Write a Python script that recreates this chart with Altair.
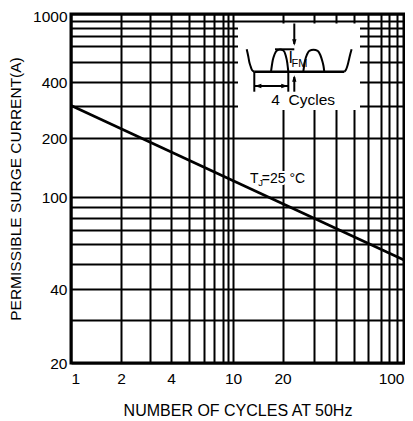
import altair as alt
import pandas as pd

# ---------------- data ----------------
cycles = [1, 100]
surge_current = [300, 52]

x_grid = [1, 2, 3, 4, 5, 6, 7, 8, 9, 10, 20, 30, 40, 50, 60, 70, 80, 90, 100]
x_labels = [1, 2, 4, 10, 20, 100]
y_grid = [20, 30, 40, 50, 60, 70, 80, 90, 100, 200, 300, 400, 500, 600, 700, 800, 900, 1000]
y_labels = [20, 40, 100, 200, 400, 1000]

tj_cycles = [12.7]
tj_current = [117.6]

# inset diagram (own unit system)
wave_part = (["left"] * 6 + ["hump1"] * 10 + ["hump2"] * 11 + ["right"] * 6)
wave_x = [8.7, 10.2, 11.3, 12.5, 14.0, 16.3,
          33.0, 33.8, 34.8, 36.5, 38.7, 42.0, 45.3, 47.7, 49.3, 50.3,
          65.3, 66.1, 67.2, 69.0, 71.3, 75.5, 79.7, 82.3, 84.3, 85.5, 86.3,
          106.3, 107.8, 109.2, 110.4, 111.8, 113.6]
wave_y = [62.7, 56.0, 50.0, 46.0, 42.0, 40.3,
          40.3, 46.0, 52.0, 57.5, 61.2, 62.5, 61.5, 56.5, 49.0, 40.3,
          40.3, 46.0, 52.0, 57.5, 61.2, 62.3, 61.2, 57.0, 51.0, 46.0, 40.3,
          40.3, 42.0, 45.5, 50.0, 56.0, 62.7]

seg_x = [16.3, 37.0, 56.3, 56.3, 16.3, 50.3, 16.3]
seg_x2 = [106.3, 56.3, 56.3, 56.3, 16.3, 50.3, 50.3]
seg_y = [40.3, 62.7, 88.5, 20.3, 40.3, 40.3, 26.0]
seg_y2 = [40.3, 62.7, 68.0, 35.0, 20.3, 20.3, 26.0]
seg_w = [2.5, 2, 2, 2, 2, 2, 2]

head_x = [56.3, 56.3, 20.0, 46.6]
head_y = [69.5, 33.5, 26.0, 26.0]
head_shape = ["M-0.65,-1L0.65,-1L0,1Z", "M-0.65,1L0.65,1L0,-1Z",
              "M1,-0.7L1,0.7L-1,0Z", "M-1,-0.7L-1,0.7L1,0Z"]

box_x, box_x2, box_y, box_y2 = [0], [122], [2], [88.5]

# ---------------- scales ----------------
W, H = 333, 349
FONT = "Liberation Sans"
x_breaks = [1, 2, 4, 6, 8, 10, 20, 40, 70, 100]
x_break_px = [0, 50, 100, 133.3, 152.3, 162, 211.5, 265, 309.5, 333]
y_breaks = [20, 40, 60, 100, 200, 400, 600, 1000]
y_break_px = [349, 275.3, 230, 183, 124.3, 68.3, 31.7, 0]

xs = alt.Scale(type="log", domain=x_breaks, range=x_break_px, nice=False)
ys = alt.Scale(type="log", domain=y_breaks, range=y_break_px, nice=False)


def label_expr(vals):
    arr = ",".join(str(v) for v in vals)
    return f"indexof([{arr}], datum.value) >= 0 ? format(datum.value, 'd') : ''"


axis_common = dict(grid=True, gridColor="black", gridWidth=2, gridOpacity=1,
                   domain=False, ticks=False, tickSize=0, labelOverlap=False,
                   labelFont=FONT, labelFontSize=15.5, labelColor="black",
                   titleFont=FONT, titleColor="black", titleFontWeight="normal")
x_axis = alt.Axis(values=x_grid, labelExpr=label_expr(x_labels), labelPadding=8,
                  labelFlush=True, titlePadding=16, titleFontSize=16, **axis_common)
y_axis = alt.Axis(values=y_grid, labelExpr=label_expr(y_labels), labelPadding=4,
                  labelOffset=alt.ExprRef(expr=f"datum.value == {max(y_labels)} ? 2 : 0"),
                  titlePadding=9, titleFontSize=15.5, **axis_common)

X = alt.X("cycles:Q", scale=xs, axis=x_axis, title="NUMBER OF CYCLES AT 50Hz")
Y = alt.Y("current:Q", scale=ys, axis=y_axis, title="PERMISSIBLE SURGE CURRENT(A)")

df_line = pd.DataFrame({"cycles": cycles, "current": surge_current})
df_tj = pd.DataFrame({"cycles": tj_cycles, "current": tj_current})

line = alt.Chart(df_line).mark_line(color="black", strokeWidth=2.6).encode(x=X, y=Y)


def tj_text(txt, size, dx, dy, halo):
    kw = dict(text=txt, font=FONT, fontSize=size, align="left", baseline="alphabetic",
              dx=dx, dy=dy)
    if halo:
        kw.update(color="white", stroke="white", strokeWidth=4)
    else:
        kw.update(color="black")
    return alt.Chart(df_tj).mark_text(**kw).encode(x=X, y=Y)


tj_layers = []
for halo in (True, False):
    tj_layers += [tj_text("T", 14, 0, 0, halo),
                  tj_text("J", 9.5, 8.3, 3, halo),
                  tj_text("=25 °C", 14, 11.8, 0, halo)]

main = alt.layer(line, *tj_layers)

# ---------------- inset ----------------
ixs = alt.Scale(domain=[0, 122], range=[167, 289], nice=False, zero=False)
iys = alt.Scale(domain=[0, 90], range=[98, 8], nice=False, zero=False)

df_box = pd.DataFrame({"x": box_x, "x2": box_x2, "y": box_y, "y2": box_y2})
box = alt.Chart(df_box).mark_rect(color="white").encode(
    x=alt.X("x:Q", scale=ixs, axis=None), x2="x2:Q",
    y=alt.Y("y:Q", scale=iys, axis=None), y2="y2:Q")

df_wave = pd.DataFrame({"part": wave_part, "x": wave_x, "y": wave_y,
                        "idx": list(range(len(wave_x)))})
wave = alt.Chart(df_wave).mark_line(color="black", strokeWidth=2, interpolate="monotone").encode(
    x=alt.X("x:Q", scale=ixs, axis=None), y=alt.Y("y:Q", scale=iys, axis=None),
    detail="part:N", order="idx:Q")

df_seg = pd.DataFrame({"x": seg_x, "x2": seg_x2, "y": seg_y, "y2": seg_y2, "w": seg_w})
segs = alt.Chart(df_seg).mark_rule(color="black").encode(
    x=alt.X("x:Q", scale=ixs, axis=None), x2="x2:Q",
    y=alt.Y("y:Q", scale=iys, axis=None), y2="y2:Q",
    strokeWidth=alt.StrokeWidth("w:Q", scale=None, legend=None))

head_layers = []
for hx, hy, hs in zip(head_x, head_y, head_shape):
    d = pd.DataFrame({"x": [hx], "y": [hy]})
    head_layers.append(alt.Chart(d).mark_point(shape=hs, filled=True, color="black",
                                                size=45, opacity=1, strokeWidth=0).encode(
        x=alt.X("x:Q", scale=ixs, axis=None), y=alt.Y("y:Q", scale=iys, axis=None)))


def inset_text(txt, x, y, size):
    d = pd.DataFrame({"x": [x], "y": [y]})
    return alt.Chart(d).mark_text(text=txt, font=FONT, fontSize=size, color="black",
                                  align="left", baseline="alphabetic").encode(
        x=alt.X("x:Q", scale=ixs, axis=None), y=alt.Y("y:Q", scale=iys, axis=None))


texts = [inset_text("I", 50.5, 48.7, 16),
         inset_text("FM", 53.5, 45.3, 11),
         inset_text("4\u00a0\u00a0Cycles", 33.3, 7, 15.5)]

inset = alt.layer(box, wave, segs, *head_layers, *texts)

chart = alt.layer(main, inset).resolve_scale(x="independent", y="independent").properties(
    width=W, height=H,
    padding={"left": 63, "top": 6, "right": 1, "bottom": 55},
    autosize=alt.AutoSizeParams(type="none"),
).configure_view(stroke="black", strokeWidth=3)

chart.save("out.html", embed_options={"renderer": "svg", "actions": False})
